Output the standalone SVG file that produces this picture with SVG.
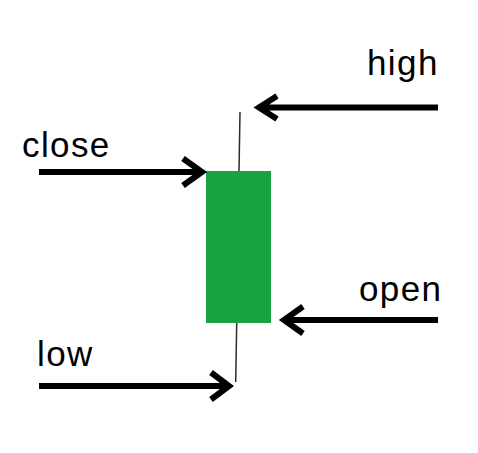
<svg xmlns="http://www.w3.org/2000/svg" width="478" height="453" viewBox="0 0 478 453">
<style>
.lbl{font-family:"Liberation Sans",Arial,sans-serif;font-size:35px;fill:#000;letter-spacing:1.4px}
.arr{fill:none;stroke:#000;stroke-width:6;stroke-linejoin:miter;stroke-linecap:butt}
.wick{stroke:#2b2b2b;stroke-width:1.5;fill:none}
</style>
<rect width="478" height="453" fill="#fff"/>
<g id="candle">
<line class="wick" x1="240" y1="112" x2="239" y2="171"/>
<line class="wick" x1="236.7" y1="323" x2="235.7" y2="382"/>
<rect x="206" y="171" width="65" height="152" fill="#19a33e"/>
</g>
<g id="connectors">
<path class="arr" d="M438 107.5H258M277 96L259 107.5L277 119"/>
<path class="arr" d="M39 172H202M183 158.5L202 172L183 185.5"/>
<path class="arr" d="M438 320H284M303 306.5L284 320L303 333.5"/>
<path class="arr" d="M39 386H228M211 372.5L229 386L211 399.5"/>
</g>
<g id="label-high"><text class="lbl" x="367" y="75">high</text></g>
<g id="label-close"><text class="lbl" x="22" y="157">close</text></g>
<g id="label-open"><text class="lbl" x="359" y="301">open</text></g>
<g id="label-low"><text class="lbl" x="37" y="366">low</text></g>
</svg>
